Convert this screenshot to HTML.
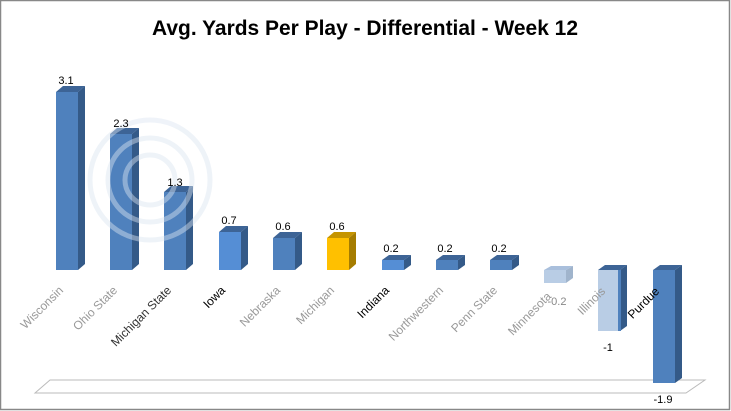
<!DOCTYPE html>
<html><head><style>body{margin:0;background:#fff}svg{display:block}</style></head><body>
<svg width="731" height="411" viewBox="0 0 731 411" xmlns="http://www.w3.org/2000/svg" font-family="Liberation Sans, sans-serif">
<rect x="0.5" y="0.5" width="729" height="409" fill="#fff" stroke="#888" stroke-width="1.5"/>
<text x="365" y="35" text-anchor="middle" font-size="21" font-weight="bold" textLength="426" lengthAdjust="spacingAndGlyphs">Avg. Yards Per Play - Differential  - Week 12</text>
<polygon points="50,380 705,380 686,393 35,393" fill="#fff" stroke="#bbb" stroke-width="1"/>
<g stroke="none">
<polygon points="56,92 63,86 85,86 78,92" fill="#3d6496"/><polygon points="78,92 85,86 85,264 78,270" fill="#345a88"/><rect x="56" y="92" width="22" height="178" fill="#4f81bd"/>
<polygon points="110,134 117,128 139,128 132,134" fill="#3d6496"/><polygon points="132,134 139,128 139,264 132,270" fill="#345a88"/><rect x="110" y="134" width="22" height="136" fill="#4f81bd"/>
<polygon points="164,192 171,186 193,186 186,192" fill="#3d6496"/><polygon points="186,192 193,186 193,264 186,270" fill="#345a88"/><rect x="164" y="192" width="22" height="78" fill="#4f81bd"/>
<polygon points="219,232 226,226 248,226 241,232" fill="#3d6496"/><polygon points="241,232 248,226 248,264 241,270" fill="#345a88"/><rect x="219" y="232" width="22" height="38" fill="#558ed5"/>
<polygon points="273,238 280,232 302,232 295,238" fill="#3d6496"/><polygon points="295,238 302,232 302,264 295,270" fill="#345a88"/><rect x="273" y="238" width="22" height="32" fill="#4f81bd"/>
<polygon points="327,238 334,232 356,232 349,238" fill="#c59400"/><polygon points="349,238 356,232 356,264 349,270" fill="#a57c00"/><rect x="327" y="238" width="22" height="32" fill="#ffc000"/>
<polygon points="382,260 389,255 411,255 404,260" fill="#3d6496"/><polygon points="404,260 411,255 411,265 404,270" fill="#345a88"/><rect x="382" y="260" width="22" height="10" fill="#558ed5"/>
<polygon points="436,260 443,255 465,255 458,260" fill="#3d6496"/><polygon points="458,260 465,255 465,265 458,270" fill="#345a88"/><rect x="436" y="260" width="22" height="10" fill="#4f81bd"/>
<polygon points="490,260 497,255 519,255 512,260" fill="#3d6496"/><polygon points="512,260 519,255 519,265 512,270" fill="#345a88"/><rect x="490" y="260" width="22" height="10" fill="#4f81bd"/>
<polygon points="544,270 551,266 573,266 566,270" fill="#a9bfdc"/><polygon points="566,270 573,266 573,278 566,283" fill="#a0b4cc"/><rect x="544" y="270" width="22" height="13" fill="#b9cde5"/>
<polygon points="598,270 605,265 627,265 620,270" fill="#3d6496"/><polygon points="620,270 627,265 627,326 620,331" fill="#345a88"/><rect x="598" y="270" width="22" height="61" fill="#b9cde5"/><rect x="618" y="270" width="3" height="61" fill="#4f81bd"/>
<polygon points="653,270 660,265 682,265 675,270" fill="#3d6496"/><polygon points="675,270 682,265 682,378 675,383" fill="#345a88"/><rect x="653" y="270" width="22" height="113" fill="#4f81bd"/>
</g>
<g fill="none" stroke="#dbe5f1" stroke-width="5" opacity="0.45">
<circle cx="150" cy="180" r="42"/><circle cx="150" cy="180" r="25"/><circle cx="150" cy="180" r="60"/>
</g>
<g font-size="11" text-anchor="middle" fill="#000">
<text x="66" y="84">3.1</text><text x="121" y="127">2.3</text><text x="175" y="186">1.3</text><text x="229" y="224">0.7</text><text x="283" y="230">0.6</text><text x="337" y="230">0.6</text><text x="391" y="252">0.2</text><text x="445" y="252">0.2</text><text x="499" y="252">0.2</text><text x="557" y="305" fill="#888">-0.2</text><text x="608" y="351">-1</text><text x="663" y="403">-1.9</text>
</g>
<g font-size="12" text-anchor="end" fill="#999">
<text transform="translate(64,291) rotate(-45)">Wisconsin</text>
<text transform="translate(118,291) rotate(-45)">Ohio State</text>
<text transform="translate(172,291) rotate(-45)" fill="#333">Michigan State</text>
<text transform="translate(226,291) rotate(-45)" fill="#000">Iowa</text>
<text transform="translate(281,291) rotate(-45)">Nebraska</text>
<text transform="translate(335,291) rotate(-45)">Michigan</text>
<text transform="translate(390,291) rotate(-45)" fill="#000">Indiana</text>
<text transform="translate(444,291) rotate(-45)">Northwestern</text>
<text transform="translate(498,291) rotate(-45)">Penn State</text>
<text transform="translate(552,297) rotate(-45)">Minnesota</text>
<text transform="translate(606,292) rotate(-45)">Illinois</text>
<text transform="translate(660,292) rotate(-45)" fill="#000">Purdue</text>
</g>
</svg>
</body></html>
